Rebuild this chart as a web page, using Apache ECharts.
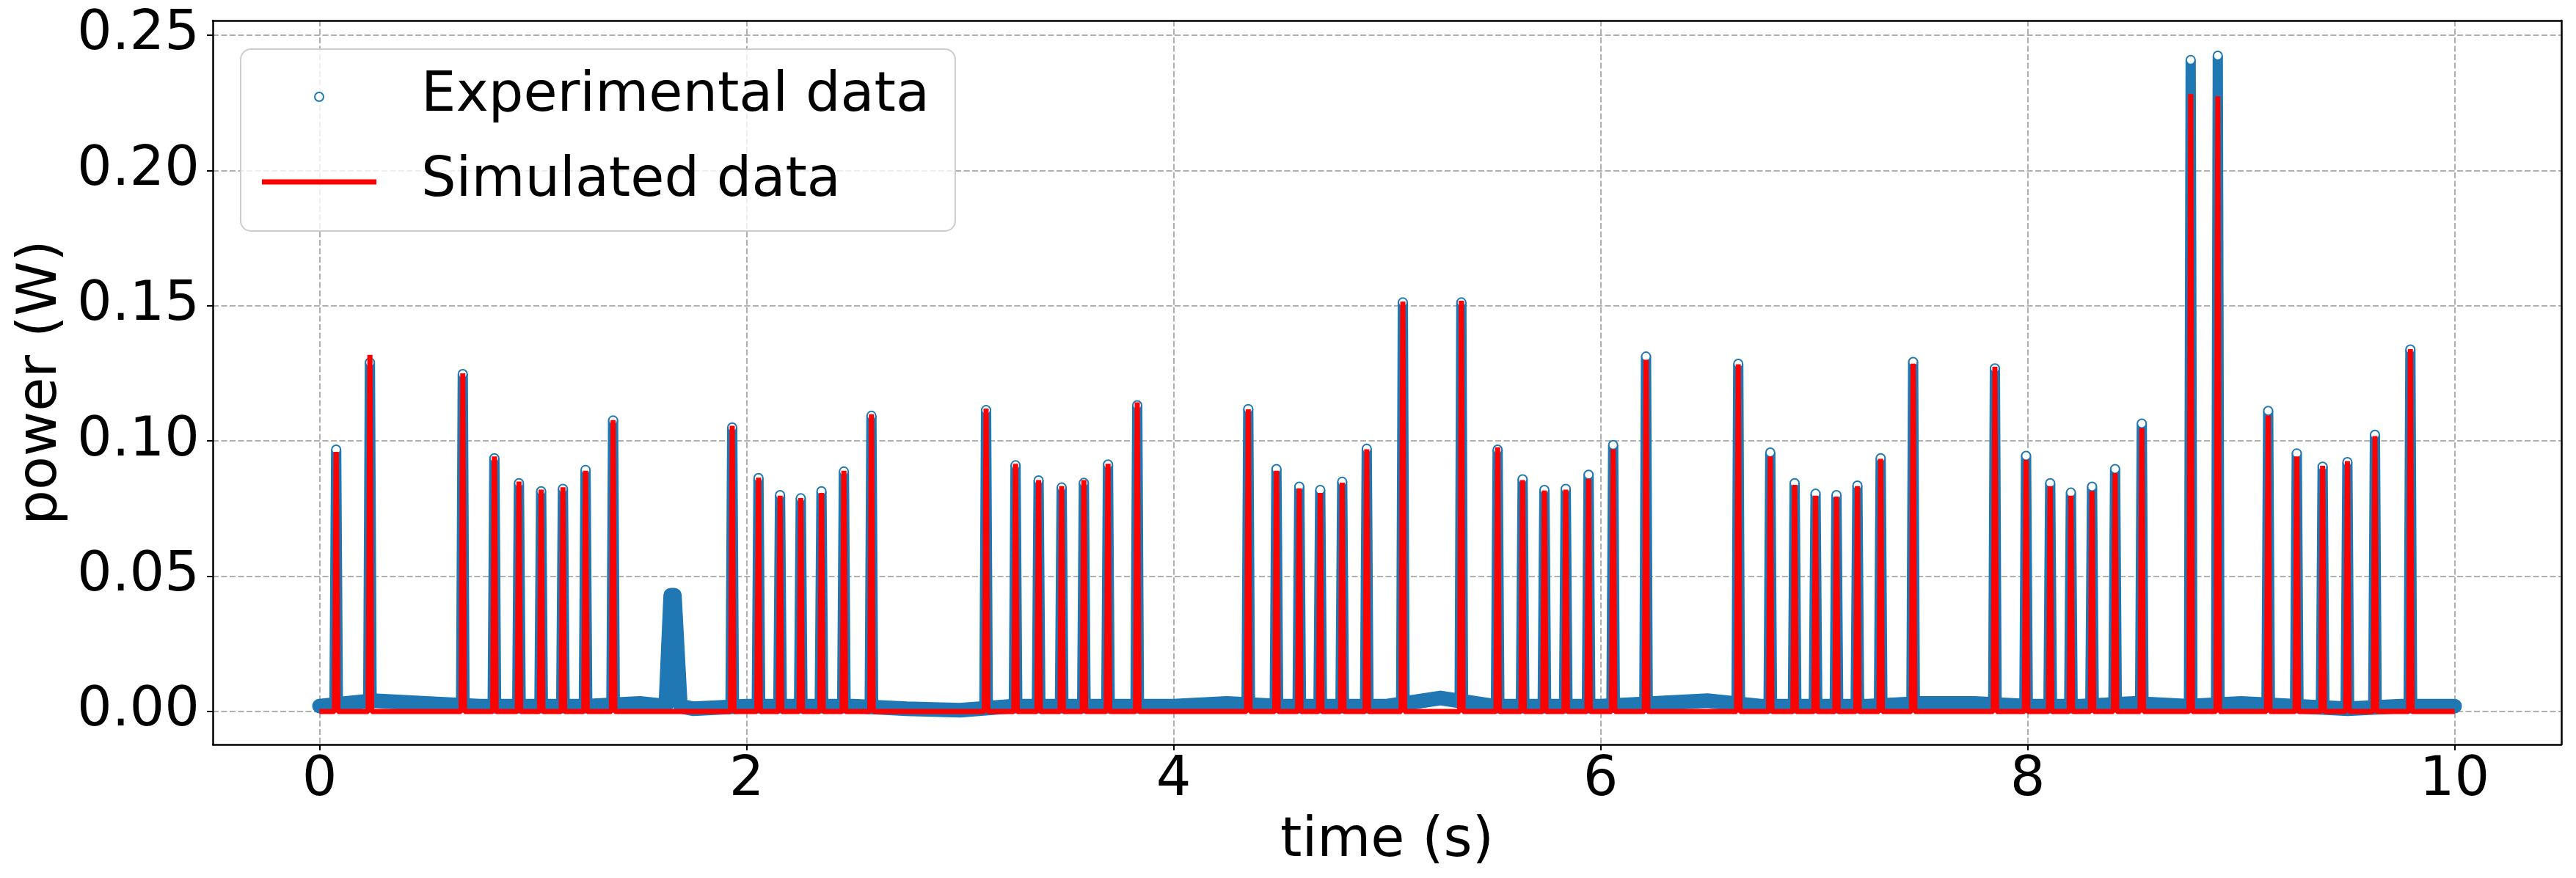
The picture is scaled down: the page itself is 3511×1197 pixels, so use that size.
<!DOCTYPE html>
<html>
<head>
<meta charset="utf-8">
<script src="https://cdn.jsdelivr.net/npm/echarts@6/dist/echarts.min.js"></script>
<style>
  html, body { margin: 0; padding: 0; background: #fff; }
  #chart { width: 3511px; height: 1197px; }
</style>
</head>
<body>
<div id="chart"></div>
<script>
// pulse centres (s)
const peakTimes = [0.078, 0.236, 0.671, 0.819, 0.934, 1.038, 1.140, 1.246, 1.375,
  1.933, 2.056, 2.157, 2.254, 2.351, 2.456, 2.585,
  3.122, 3.260, 3.368, 3.476, 3.580, 3.693, 3.830,
  4.350, 4.482, 4.589, 4.687, 4.790, 4.905,
  5.074, 5.348,
  5.518, 5.635, 5.737, 5.837, 5.944, 6.059, 6.213,
  6.645, 6.795, 6.909, 7.007, 7.105, 7.203, 7.312, 7.464,
  7.847, 7.993, 8.106, 8.203, 8.302, 8.410, 8.535,
  8.764, 8.891,
  9.127, 9.261, 9.382, 9.498, 9.627, 9.793];
// measured peak power (W)
const expPeaks = [0.0968, 0.1290, 0.1247, 0.0936, 0.0844, 0.0814, 0.0823, 0.0893, 0.1076,
  0.1050, 0.0863, 0.0800, 0.0788, 0.0814, 0.0887, 0.1093,
  0.1114, 0.0910, 0.0854, 0.0828, 0.0845, 0.0913, 0.1132,
  0.1118, 0.0896, 0.0831, 0.0819, 0.0849, 0.0971,
  0.1512, 0.1512,
  0.0968, 0.0858, 0.0819, 0.0823, 0.0875, 0.0985, 0.1312,
  0.1285, 0.0957, 0.0844, 0.0805, 0.0800, 0.0835, 0.0936, 0.1292,
  0.1268, 0.0945, 0.0844, 0.0809, 0.0831, 0.0896, 0.1064,
  0.2408, 0.2424,
  0.1111, 0.0954, 0.0905, 0.0922, 0.1023, 0.1338];
// simulated peak power (W)
const simPeaks = [0.0960, 0.1318, 0.1250, 0.0943, 0.0850, 0.0820, 0.0829, 0.0890, 0.1077,
  0.1056, 0.0864, 0.0798, 0.0789, 0.0808, 0.0890, 0.1099,
  0.1120, 0.0916, 0.0855, 0.0833, 0.0855, 0.0916, 0.1143,
  0.1117, 0.0890, 0.0825, 0.0808, 0.0846, 0.0969,
  0.1515, 0.1518,
  0.0977, 0.0855, 0.0817, 0.0820, 0.0860, 0.0969, 0.1300,
  0.1283, 0.0943, 0.0838, 0.0798, 0.0794, 0.0833, 0.0934, 0.1286,
  0.1274, 0.0930, 0.0833, 0.0798, 0.0815, 0.0881, 0.1047,
  0.2282, 0.2274,
  0.1094, 0.0943, 0.0908, 0.0925, 0.1018, 0.1339];
// measured baseline between pulses
const baseTimes = [0, 0.25, 0.5, 0.75, 1.0, 1.25, 1.5, 1.75, 2.0, 2.25, 2.5, 2.75, 3.0, 3.25,
  3.5, 3.75, 4.0, 4.25, 4.5, 4.75, 5.0, 5.25, 5.5, 5.75, 6.0, 6.25, 6.5, 6.75, 7.0, 7.25,
  7.5, 7.75, 8.0, 8.25, 8.5, 8.75, 9.0, 9.25, 9.5, 9.75, 10.0];
const baseLevels = [0.002, 0.004, 0.003, 0.002, 0.002, 0.002, 0.003, 0.001, 0.002, 0.002,
  0.002, 0.001, 0.0005, 0.002, 0.002, 0.002, 0.002, 0.003, 0.002, 0.002, 0.002, 0.005,
  0.002, 0.002, 0.002, 0.003, 0.004, 0.002, 0.002, 0.002, 0.003, 0.003, 0.002, 0.002,
  0.003, 0.002, 0.003, 0.002, 0.001, 0.002, 0.002];
// the small measured bump near 1.65 s with no simulated pulse
const bumpTimes = [1.622, 1.645, 1.662, 1.690];
const bumpLevels = [0.002, 0.043, 0.043, 0.002];
const expHalfWidth = 0.008;
const simHalfWidth = 0.008;
const expFoot = 0.002;
const xTicks = [0, 2, 4, 6, 8, 10];
const yTicks = [0, 0.05, 0.1, 0.15, 0.2, 0.25];

const FONT = 'DejaVu Sans';

// baseline band of the measurement
let baseData = [];
baseTimes.forEach((t, i) => {
  if (t > 1.6 && t < 1.72) return;
  baseData.push([t, baseLevels[i]]);
});
bumpTimes.forEach((t, i) => baseData.push([t, bumpLevels[i]]));
baseData.sort((a, b) => a[0] - b[0]);

// measured pulses, each one its own segment
let pulseData = [];
peakTimes.forEach((t, i) => {
  pulseData.push({ value: [t - expHalfWidth, expFoot], symbol: 'none' });
  pulseData.push({ value: [t, expPeaks[i]] });
  pulseData.push({ value: [t + expHalfWidth, expFoot], symbol: 'none' });
  pulseData.push('-');
});

let simData = [[0, 0], [10, 0]];
peakTimes.forEach((t, i) => {
  simData.push([t - simHalfWidth, 0]);
  simData.push([t, simPeaks[i]]);
  simData.push([t + simHalfWidth, 0]);
});
simData.sort((a, b) => a[0] - b[0]);

const chart = echarts.init(document.getElementById('chart'), null, { renderer: 'canvas' });

const tickLabel = { fontSize: 75, fontFamily: FONT, color: '#000' };
const gridLine = { show: true, lineStyle: { color: '#b0b0b0', width: 2, type: [8, 3.5] } };
const frame = { show: true, onZero: false, lineStyle: { color: '#000', width: 2.5 } };
const blue = '#1f77b4';

chart.setOption({
  animation: false,
  backgroundColor: '#fff',
  grid: { left: 290, top: 28, width: 3201, height: 987 },
  legend: {
    orient: 'vertical',
    left: 328,
    top: 67,
    itemWidth: 156,
    itemHeight: 12,
    itemGap: 26,
    padding: [20, 35, 22, 29],
    backgroundColor: 'rgba(255,255,255,0.8)',
    borderColor: '#cccccc',
    borderWidth: 2,
    borderRadius: 14,
    selectedMode: false,
    textStyle: { fontSize: 75, fontFamily: FONT, color: '#000', lineHeight: 90, padding: [0, 0, 0, 56] },
    data: [
      { name: 'Experimental data', icon: 'emptyCircle' },
      { name: 'Simulated data', icon: 'path://M0,0H156V7H0Z', itemStyle: { borderWidth: 0 } }
    ]
  },
  xAxis: [
    {
      type: 'value',
      min: -0.5,
      max: 10.5,
      axisLine: frame,
      axisTick: { show: true, customValues: xTicks, length: 8, lineStyle: { color: '#000', width: 2 } },
      axisLabel: Object.assign({ customValues: xTicks, margin: 12 }, tickLabel),
      splitLine: gridLine,
      name: 'time (s)',
      nameLocation: 'middle',
      nameGap: 95,
      nameTextStyle: { fontSize: 75, fontFamily: FONT, color: '#000' }
    },
    {
      type: 'value', position: 'top', min: -0.5, max: 10.5,
      axisLine: frame, axisTick: { show: false }, axisLabel: { show: false }, splitLine: { show: false }
    }
  ],
  yAxis: [
    {
      type: 'value',
      min: -0.0122,
      max: 0.2554,
      axisLine: frame,
      axisTick: { show: true, customValues: yTicks, length: 8, lineStyle: { color: '#000', width: 2 } },
      axisLabel: Object.assign({ customValues: yTicks, margin: 18, formatter: v => v.toFixed(2) }, tickLabel),
      splitLine: gridLine,
      name: 'power (W)',
      nameLocation: 'middle',
      nameGap: 190,
      nameTextStyle: { fontSize: 75, fontFamily: FONT, color: '#000' }
    },
    {
      type: 'value', position: 'right', min: -0.0122, max: 0.2554,
      axisLine: frame, axisTick: { show: false }, axisLabel: { show: false }, splitLine: { show: false }
    }
  ],
  series: [
    {
      name: 'Experimental data',
      type: 'line',
      data: baseData,
      symbol: 'none',
      silent: true,
      z: 2,
      lineStyle: { color: blue, width: 20, join: 'round', cap: 'round' },
      itemStyle: { color: blue }
    },
    {
      name: 'Experimental data',
      type: 'line',
      data: pulseData,
      connectNulls: false,
      symbol: 'emptyCircle',
      symbolSize: 12,
      showSymbol: true,
      showAllSymbol: true,
      silent: true,
      z: 2,
      lineStyle: { color: blue, width: 14 },
      itemStyle: { color: blue, borderColor: blue, borderWidth: 2 }
    },
    {
      name: 'Simulated data',
      type: 'line',
      data: simData,
      symbol: 'none',
      showSymbol: false,
      silent: true,
      z: 3,
      lineStyle: { color: '#ff0000', width: 7 },
      itemStyle: { color: '#ff0000' }
    }
  ]
});
</script>
</body>
</html>
